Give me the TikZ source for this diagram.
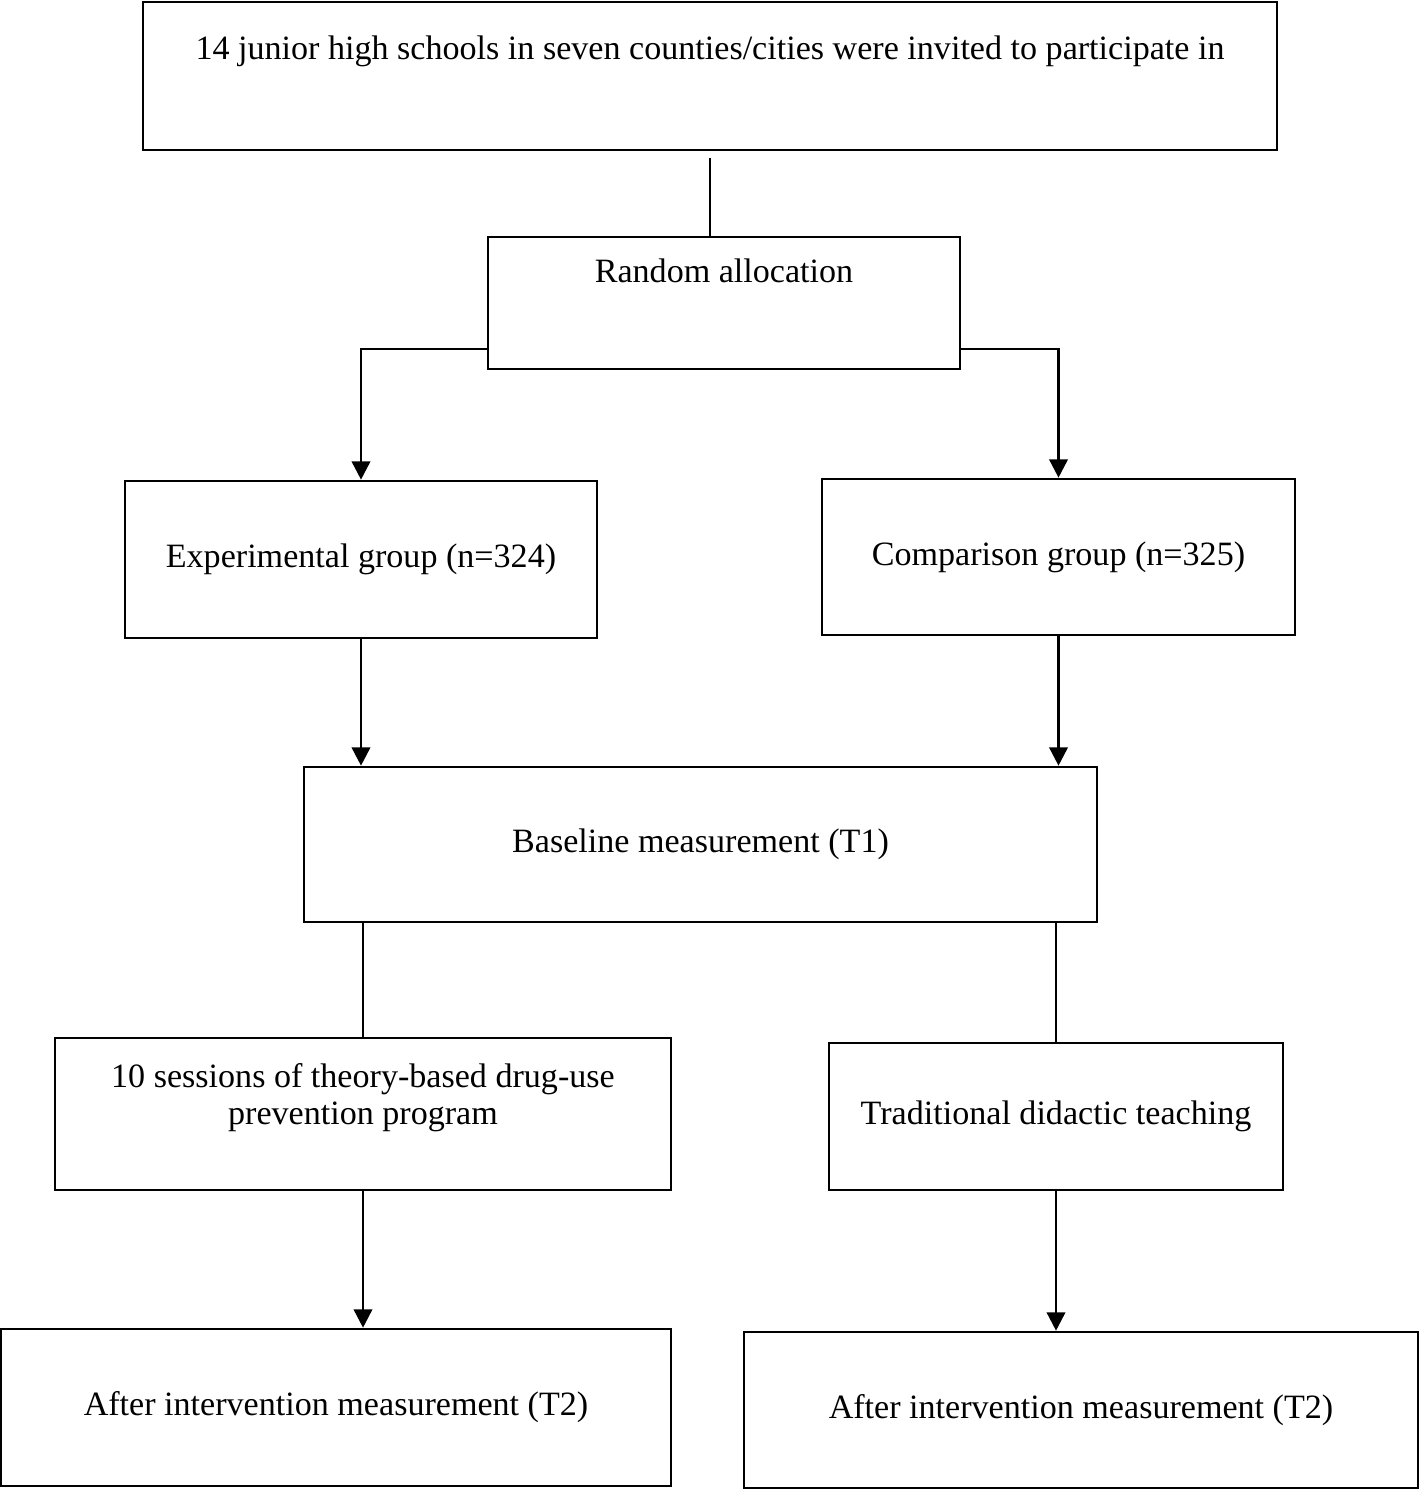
\documentclass[tikz,border=0pt]{standalone}
\usepackage{fontspec}
\setmainfont{Liberation Serif}
\usetikzlibrary{arrows.meta}
\usetikzlibrary{positioning}

\tikzset{
    box/.style={draw, line width=1.5pt, inner sep=0pt, align=center},
    txt/.style={inner sep=0pt, align=center},
    link/.style={line width=1.5pt},
    arr/.style={line width=1.5pt, -{Triangle[length=10.5pt,width=10.5pt]}}
}

\begin{document}
\begin{tikzpicture}[x=0.02cm, y=-0.02cm, font=\fontsize{19.4}{21.5}\selectfont]
                \useasboundingbox (0,0) rectangle (1420,1490);

                % boxes
                \node[box, minimum width=22.68cm, minimum height=2.96cm] (top) at (710,76) {};
                \node[box, minimum width=9.44cm, minimum height=2.64cm] (rand) at (724,303) {};
                \node[box, minimum width=9.44cm, minimum height=3.14cm] (exp) at (361,559.5) {Experimental group (n=324)};
                \node[box, minimum width=9.46cm, minimum height=3.12cm] (comp) at (1058.5,557) {Comparison group (n=325)};
                \node[box, minimum width=15.86cm, minimum height=3.10cm] (base) at (700.5,844.5) {Baseline measurement (T1)};
                \node[box, minimum width=12.32cm, minimum height=3.04cm] (sess) at (363,1114) {};
                \node[box, minimum width=9.08cm, minimum height=2.94cm] (trad) at (1056,1116.5) {Traditional didactic teaching};
                \node[box, minimum width=13.40cm, minimum height=3.14cm] (postexp) at (336,1407.5) {After intervention measurement (T2)};
                \node[box, minimum width=13.48cm, minimum height=3.12cm] (postcomp) at (1081,1410) {After intervention measurement (T2)};

                % texts at the top of their boxes
                \node[txt, anchor=base] (toptxt) at ([yshift=-1.18cm]top.north) {14 junior high schools in seven counties/cities were invited to participate in};
                \node[txt, anchor=base] (randtxt) at ([yshift=-0.94cm]rand.north) {Random allocation};
                \node[txt, anchor=north] (sesstxt) at ([yshift=-0.52cm]sess.north) {10 sessions of theory-based drug-use\\prevention program};

                % connectors
                \draw[link] ([yshift=-0.14cm]top.south) -- (top.south |- rand.north);
                \draw[arr] ([yshift=-0.92cm]rand.west) -| (exp.north);
                \draw[arr] ([yshift=-0.92cm]rand.east) -| (comp.north);
                \draw[arr] (exp.south) -- (exp.south |- base.north);
                \draw[arr] (comp.south) -- (comp.south |- base.north);
                \draw[link] (sess.north |- base.south) -- (sess.north);
                \draw[link] (trad.north |- base.south) -- (trad.north);
                \draw[arr] (sess.south) -- (sess.south |- postexp.north);
                \draw[arr] (trad.south) -- (trad.south |- postcomp.north);

            \end{tikzpicture}
\end{document}
